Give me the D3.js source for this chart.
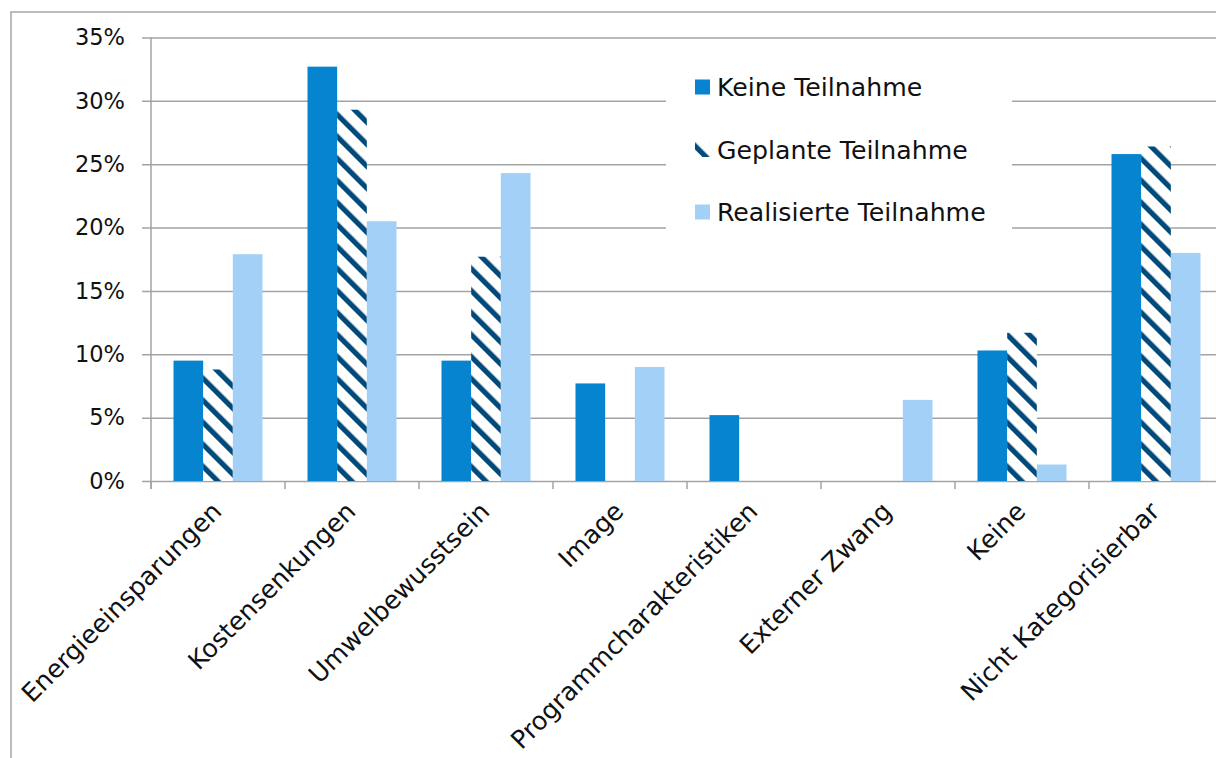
<!DOCTYPE html>
<html>
<head>
<meta charset="utf-8">
<script src="https://cdn.jsdelivr.net/npm/d3@7"></script>
<style>
  html, body { margin: 0; padding: 0; background: #fff; }
  svg { display: block; font-family: "DejaVu Sans", sans-serif; }
</style>
</head>
<body>
<svg id="chart" width="1216" height="758"></svg>
<script>
// Motives by participation status (share of answers)
const categories = [
  "Energieeinsparungen", "Kostensenkungen", "Umwelbewusstsein", "Image",
  "Programmcharakteristiken", "Externer Zwang", "Keine", "Nicht Kategorisierbar"
];
const seriesNames = ["Keine Teilnahme", "Geplante Teilnahme", "Realisierte Teilnahme"];
const keineTeilnahme      = [0.095, 0.327, 0.095, 0.077, 0.052, 0.0,   0.103, 0.258];
const geplanteTeilnahme   = [0.088, 0.293, 0.177, 0.0,   0.0,   0.0,   0.117, 0.264];
const realisierteTeilnahme= [0.179, 0.205, 0.243, 0.090, 0.0,   0.064, 0.013, 0.180];
const yTicks = [0, 0.05, 0.10, 0.15, 0.20, 0.25, 0.30, 0.35];

const seriesValues = [keineTeilnahme, geplanteTeilnahme, realisierteTeilnahme];

const svg = d3.select("#chart");
const W = 1216, H = 758;
const plotLeft = 151, plotTop = 37.5, plotBottom = 481;
const band = 134;

const gridColor = "#a3a3a3";
const colors = ["#0784d0", "url(#hatch)", "#a3d0f7"];

// diagonal hatch for planned participation
const defs = svg.append("defs");
const pat = defs.append("pattern")
  .attr("id", "hatch")
  .attr("patternUnits", "userSpaceOnUse")
  .attr("width", 15.56).attr("height", 15.56)
  .attr("patternTransform", "rotate(-45)");
pat.append("rect").attr("width", 15.56).attr("height", 15.56).attr("fill", "#fff");
pat.append("rect").attr("x", 0).attr("width", 5.2).attr("height", 15.56).attr("fill", "#004b7c");

// outer frame
svg.append("path")
  .attr("d", `M11,${H} L11,12 L${W},12`)
  .attr("fill", "none").attr("stroke", "#a6a6a6").attr("stroke-width", 1.5);

const x = d3.scaleBand().domain(categories).range([plotLeft, plotLeft + band * categories.length]).padding(0);
const inner = d3.scaleBand().domain(seriesNames).range([22.5, band - 22.5]).padding(0);
const y = d3.scaleLinear().domain([0, 0.35]).range([plotBottom, plotTop]);

// y axis with gridlines
const yAxis = d3.axisLeft(y)
  .tickValues(yTicks)
  .tickFormat(d => d3.format(".0%")(d))
  .tickSize(-(W - plotLeft))
  .tickPadding(26);
const gy = svg.append("g").attr("transform", `translate(${plotLeft},0)`).call(yAxis);
gy.select(".domain").remove();
gy.selectAll(".tick line")
  .attr("x1", -9)
  .attr("stroke", gridColor).attr("stroke-width", 1.5);
gy.selectAll(".tick text")
  .attr("font-size", 22.5).attr("fill", "#111")
  .attr("font-family", "DejaVu Sans, sans-serif");

// vertical axis line
svg.append("line")
  .attr("x1", plotLeft).attr("x2", plotLeft)
  .attr("y1", plotTop).attr("y2", plotBottom + 8)
  .attr("stroke", gridColor).attr("stroke-width", 1.5);

// category boundary ticks
const boundaries = categories.map(c => x(c)).concat([x(categories[categories.length - 1]) + x.bandwidth()]);
svg.append("g").selectAll("line").data(boundaries).join("line")
  .attr("x1", d => d).attr("x2", d => d)
  .attr("y1", plotBottom).attr("y2", plotBottom + 8)
  .attr("stroke", gridColor).attr("stroke-width", 1.5);

// bars
const groups = svg.append("g").selectAll("g").data(categories).join("g")
  .attr("transform", c => `translate(${x(c)},0)`);
groups.selectAll("rect")
  .data((c, i) => seriesNames.map((s, k) => ({ s, k, v: seriesValues[k][i] })))
  .join("rect")
  .filter(d => d.v > 0)
  .attr("x", d => inner(d.s))
  .attr("width", inner.bandwidth())
  .attr("y", d => y(d.v))
  .attr("height", d => y(0) - y(d.v))
  .attr("fill", d => colors[d.k]);

// category labels (rotated)
svg.append("g").selectAll("text").data(categories).join("text")
  .attr("transform", c => `translate(${x(c) + x.bandwidth() / 2 + 5},513) rotate(-45)`)
  .attr("text-anchor", "end")
  .attr("font-size", 25.3)
  .attr("fill", "#111")
  .text(c => c);

// legend
const lg = svg.append("g");
lg.append("rect")
  .attr("x", 666).attr("y", 58).attr("width", 346).attr("height", 184)
  .attr("fill", "#fff");
const items = lg.selectAll("g").data(seriesNames).join("g")
  .attr("transform", (d, i) => `translate(695,${87 + i * 62.5})`);
items.append("rect")
  .attr("x", 0).attr("y", -7.5).attr("width", 15).attr("height", 15)
  .attr("fill", (d, i) => colors[i]);
items.append("text")
  .attr("x", 22).attr("dy", "0.36em")
  .attr("font-size", 25.2).attr("fill", "#111")
  .text(d => d);
</script>
</body>
</html>
